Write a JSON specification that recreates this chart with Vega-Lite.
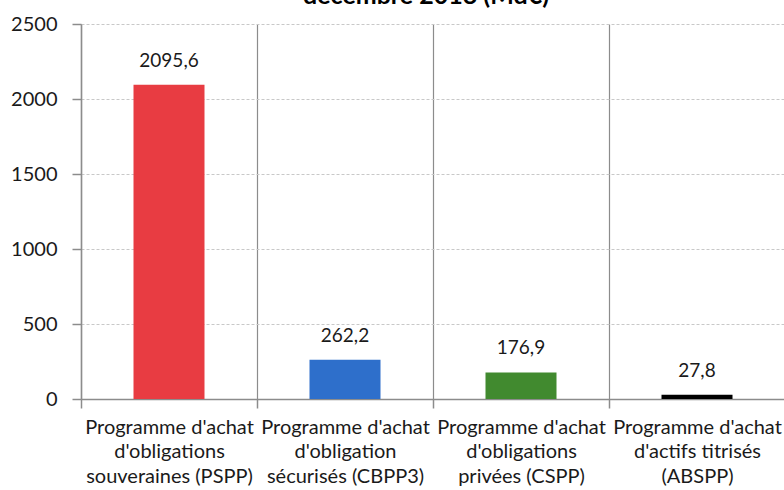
{
  "$schema": "https://vega.github.io/schema/vega-lite/v6.json",
  "width": 704,
  "height": 375,
  "autosize": {"type": "none"},
  "padding": {"left": 81, "top": 24, "right": 0, "bottom": 91},
  "background": "white",
  "config": {
    "locale": {"number": {"decimal": ",", "thousands": "", "grouping": [3], "currency": ["", " €"]}},
    "view": {"stroke": null},
    "font": "Lato"
  },
  "title": {
    "text": "décembre 2018 (Md€)",
    "fontSize": 25,
    "fontWeight": "bold",
    "font": "Lato",
    "color": "#000000",
    "anchor": "middle",
    "frame": "group",
    "baseline": "alphabetic",
    "offset": 2,
    "dx": -7,
    "dy": 17
  },
  "data": {
    "values": [
      {"prog": "Programme d'achat|d'obligations|souveraines (PSPP)", "val": 2095.6, "c": "PSPP"},
      {"prog": "Programme d'achat|d'obligation|sécurisés (CBPP3)", "val": 262.2, "c": "CBPP3"},
      {"prog": "Programme d'achat|d'obligations|privées (CSPP)", "val": 176.9, "c": "CSPP"},
      {"prog": "Programme d'achat|d'actifs titrisés|(ABSPP)", "val": 27.8, "c": "ABSPP"}
    ]
  },
  "encoding": {
    "x": {
      "field": "prog", "type": "nominal", "sort": null,
      "scale": {"paddingInner": 0, "paddingOuter": 0},
      "axis": {
        "title": null, "labelAngle": 0,
        "labelExpr": "split(datum.label, '|')",
        "labelFontSize": 20, "labelColor": "#1a1a1a", "labelLineHeight": 24.5,
        "labelPadding": 9, "labelFont": "Lato", "labelOverlap": false, "labelLimit": 0,
        "tickBand": "extent", "tickSize": 9, "tickColor": "#8c8c8c", "tickWidth": 1.5,
        "domainColor": "#8c8c8c", "domainWidth": 1.5,
        "grid": true, "gridColor": "#8c8c8c", "gridWidth": 1.2
      }
    },
    "y": {
      "field": "val", "type": "quantitative",
      "scale": {"domain": [0, 2500], "nice": false},
      "axis": {
        "title": null, "values": [0, 500, 1000, 1500, 2000, 2500], "format": "d",
        "labelFontSize": 20, "labelColor": "#1a1a1a", "labelPadding": 15, "labelFont": "Lato",
        "tickSize": 9, "tickColor": "#8c8c8c", "tickWidth": 1.5,
        "domainColor": "#8c8c8c", "domainWidth": 1.5,
        "gridColor": "#c8c8c8", "gridDash": [3, 2], "gridWidth": 1
      }
    }
  },
  "layer": [
    {
      "mark": {"type": "bar", "size": 71},
      "encoding": {
        "color": {
          "field": "c", "type": "nominal", "legend": null,
          "scale": {"domain": ["PSPP", "CBPP3", "CSPP", "ABSPP"], "range": ["#e83c42", "#2e6fcb", "#418a2f", "#000000"]}
        }
      }
    },
    {
      "mark": {"type": "text", "baseline": "alphabetic", "dy": -18, "fontSize": 19, "color": "#1a1a1a", "font": "Lato"},
      "encoding": {"text": {"field": "val", "type": "quantitative", "format": ".1f"}}
    }
  ]
}
